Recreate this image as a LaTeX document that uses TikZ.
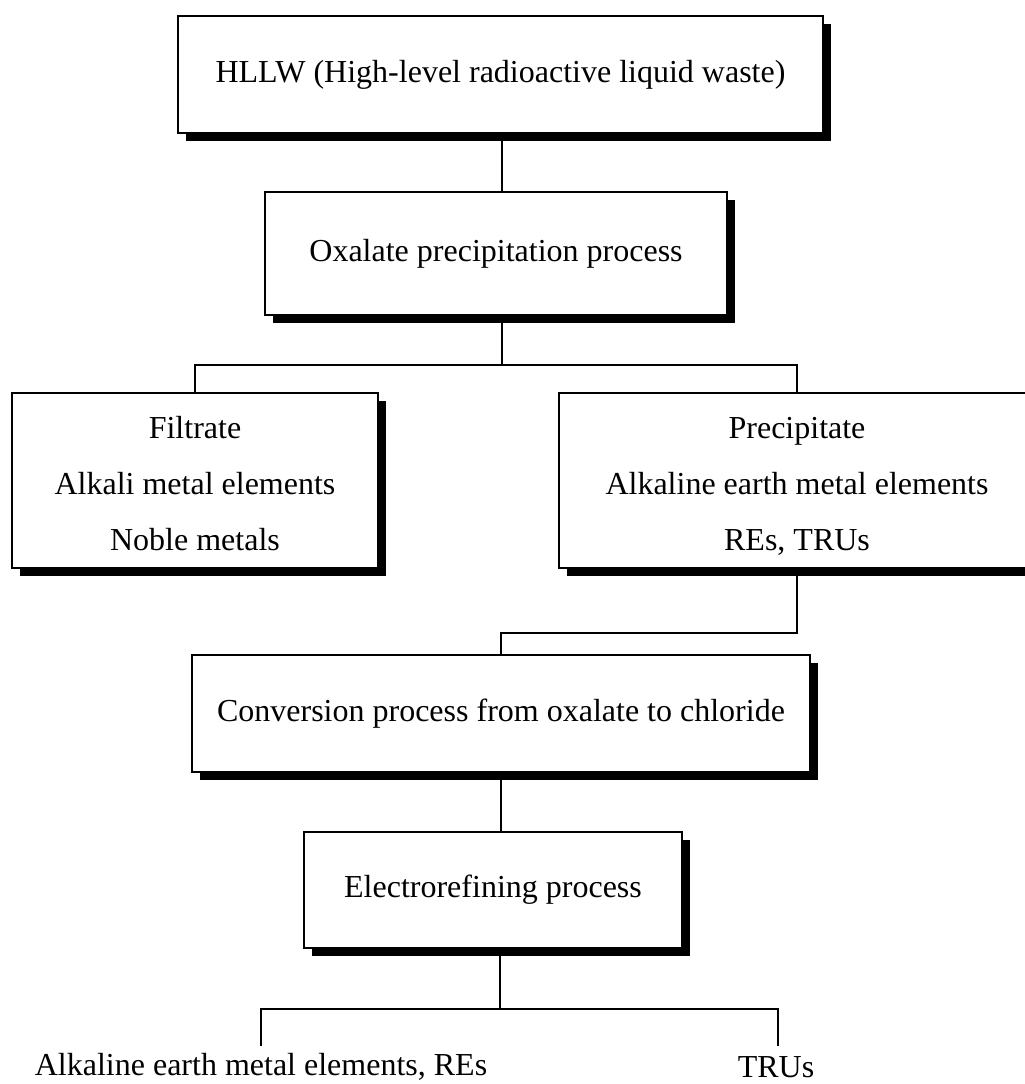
\documentclass[tikz,border=0pt]{standalone}
\usepackage{fontspec}
\setmainfont{Liberation Serif}
\usetikzlibrary{shadows}
\begin{document}
\begin{tikzpicture}[x=1pt,y=-1pt,
  box/.style={draw=black, line width=2pt, fill=white, rectangle, inner sep=0pt,
    align=center, font=\fontsize{32}{56}\selectfont,
    drop shadow={shadow xshift=8pt, shadow yshift=-8pt, opacity=1, fill=black}},
  conn/.style={draw=black, line width=1.6pt},
  lbl/.style={font=\fontsize{32}{38}\selectfont, inner sep=0pt}]
\clip (0,0) rectangle (1025,1084);
\fill[white] (0,0) rectangle (1025,1084);
\node[box, minimum width=645pt, minimum height=117pt] (b1) at (500.5,74.5) {HLLW (High-level radioactive liquid waste)};
\node[box, minimum width=462pt, minimum height=123pt] (b2) at (496,253.5) {Oxalate precipitation process};
\node[box, minimum width=366pt, minimum height=175pt] (b3) at (195,480.5) {\rule{0pt}{34pt}Filtrate\\Alkali metal elements\\Noble metals\vphantom{g}};
\node[box, minimum width=476pt, minimum height=175pt] (b4) at (797,480.5) {\rule{0pt}{34pt}Precipitate\\Alkaline earth metal elements\\REs, TRUs\vphantom{g}};
\node[box, minimum width=618pt, minimum height=117pt] (b5) at (501,713.5) {Conversion process from oxalate to chloride};
\node[box, minimum width=378pt, minimum height=116pt] (b6) at (493,890) {Electrorefining process};
\node[lbl] (l1) at (261,1067) {Alkaline earth metal elements, REs};
\node[lbl] (l2) at (776,1067) {TRUs};
\coordinate (j1) at (502,365);
\coordinate (j2) at (501,633);
\coordinate (j3) at (500,1009);
\coordinate (d1) at (261,1046);
\coordinate (d2) at (778,1046);
\draw[conn] (j1 |- b1.south) -- (j1 |- b2.north);
\draw[conn] (j1 |- b2.south) -- (j1);
\draw[conn] (b3.north) -- (b3.north |- j1) -- (b4.north |- j1) -- (b4.north);
\draw[conn] (b4.south) -- (b4.south |- j2) -- (j2) -- (j2 |- b5.north);
\draw[conn] (j2 |- b5.south) -- (j2 |- b6.north);
\draw[conn] (j3 |- b6.south) -- (j3);
\draw[conn] (d1) -- (d1 |- j3) -- (d2 |- j3) -- (d2);
\end{tikzpicture}
\end{document}
